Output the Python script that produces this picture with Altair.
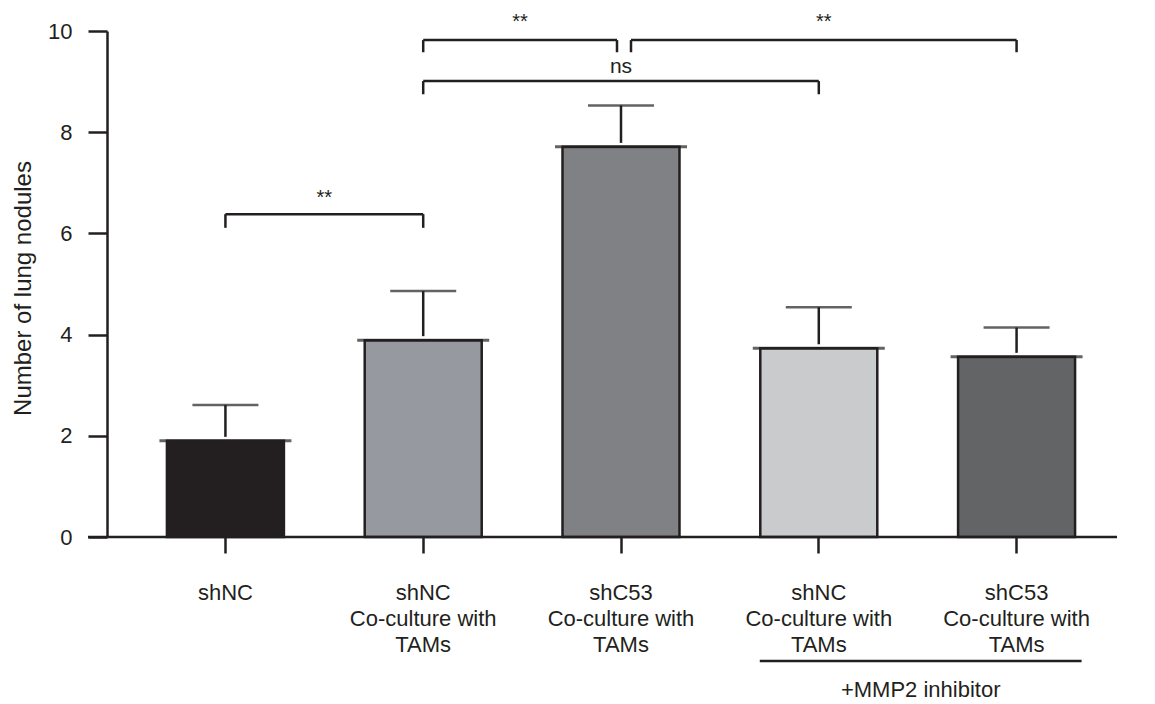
import json
import altair as alt
import pandas as pd

# ---- data ----
groups = ["g1", "g2", "g3", "g4", "g5"]
group_labels = [
    ["shNC"],
    ["shNC", "Co-culture with", "TAMs"],
    ["shC53", "Co-culture with", "TAMs"],
    ["shNC", "Co-culture with", "TAMs"],
    ["shC53", "Co-culture with", "TAMs"],
]
means = [1.90, 3.89, 7.71, 3.73, 3.56]
sds = [0.71, 0.97, 0.82, 0.81, 0.58]
fills = ["#231f20", "#96999f", "#808184", "#cacbcd", "#636466"]

bracket_left = ["g1", "g2", "g2", "g3"]
bracket_right = ["g2", "g3", "g4", "g5"]
bracket_level = [6.38, 9.82, 9.01, 9.82]
bracket_foot = [6.11, 9.58, 8.75, 9.58]
bracket_text = ["**", "**", "ns", "**"]
text_level = [6.59, 10.05, 9.17, 10.05]

group_note = "+MMP2 inhibitor"
group_note_span = ["g4", "g5"]

y_title = "Number of lung nodules"
y_ticks = [0, 2, 4, 6, 8, 10]

# ---- geometry / style ----
W, H = 1028, 506
P_IN, P_OUT = 0.4085, 0.303
STEP = W / (len(groups) - P_IN + 2 * P_OUT)
INK = "#231f20"
FONT = "Liberation Sans"
LW = 2.5

df = pd.DataFrame({"group": groups, "mean": means, "sd": sds})
df["top"] = df["mean"] + df["sd"]

label_expr = ""
for g, lab in zip(groups, group_labels):
    label_expr += f"datum.value == '{g}' ? {json.dumps(lab)} : "
label_expr += "''"

xscale = alt.Scale(domain=groups, paddingInner=P_IN, paddingOuter=P_OUT)
yscale = alt.Scale(domain=[0, 10], nice=False)


def X(field):
    return alt.X(field, type="nominal", scale=xscale, sort=groups, title=None)


def Y(field):
    return alt.Y(field, type="quantitative", scale=yscale, title=y_title,
                 axis=alt.Axis(values=y_ticks))


base = alt.Chart(df)

bars = base.mark_bar(stroke=INK, strokeWidth=LW).encode(
    x=X("group"),
    y=Y("mean"),
    fill=alt.Fill("group:N", scale=alt.Scale(domain=groups, range=fills), legend=None),
)
bar_caps = base.mark_tick(color=INK, size=132, thickness=3).encode(
    x=X("group"), y=Y("mean")
)
err_line = base.mark_rule(color=INK, strokeWidth=LW, y2Offset=-4).encode(
    x=X("group"), y=Y("top"), y2="mean:Q"
)
err_caps = base.mark_tick(color=INK, size=66, thickness=LW).encode(
    x=X("group"), y=Y("top")
)

layers = [bars, bar_caps, err_line, err_caps]

nudges = [(0, 0), (0, -4), (0, 0), (10, 0)]
for i in range(len(bracket_left)):
    bdf = pd.DataFrame({
        "left": [bracket_left[i]], "right": [bracket_right[i]],
        "level": [bracket_level[i]], "foot": [bracket_foot[i]],
        "label": [bracket_text[i]], "tl": [text_level[i]],
    })
    lo, ro = nudges[i]
    bc = alt.Chart(bdf)
    layers.append(bc.mark_rule(color=INK, strokeWidth=LW, xOffset=lo, x2Offset=ro).encode(
        x=X("left"), x2="right:N", y=Y("level")))
    layers.append(bc.mark_rule(color=INK, strokeWidth=LW, xOffset=lo).encode(
        x=X("left"), y=Y("level"), y2="foot:Q"))
    layers.append(bc.mark_rule(color=INK, strokeWidth=LW, xOffset=ro).encode(
        x=X("right"), y=Y("level"), y2="foot:Q"))
    span = groups.index(bracket_right[i]) - groups.index(bracket_left[i])
    dx = span * STEP / 2 + (lo + ro) / 2
    fs = 21 if bracket_text[i] == "ns" else 20
    layers.append(bc.mark_text(color=INK, font=FONT, fontSize=fs, dx=dx,
                               baseline="alphabetic").encode(
        x=X("left"), y=Y("tl"), text="label:N"))

one = alt.Chart(pd.DataFrame({"a": [group_note_span[0]], "b": [group_note_span[1]],
                              "t": [group_note]}))
# x-axis baseline (extends left past y axis)
layers.append(one.mark_rule(color=INK, strokeWidth=LW).encode(
    x=alt.value(-19), x2=alt.value(1010), y=alt.value(H)))
# group underline + note
layers.append(one.mark_rule(color=INK, strokeWidth=LW, xOffset=-59, x2Offset=65).encode(
    x=X("a"), x2="b:N", y=alt.value(630)))
layers.append(one.mark_text(color=INK, font=FONT, fontSize=22, dx=STEP / 2 + 3,
                            baseline="middle").encode(
    x=X("a"), y=alt.value(659), text="t:N"))

chart = alt.layer(*layers).properties(
    width=W, height=H,
    autosize=alt.AutoSizeParams(type="none"),
    padding={"left": 99, "top": 23, "right": 12, "bottom": 164},
).configure_view(stroke=None).configure_axis(
    labelFont=FONT, titleFont=FONT, labelColor=INK, titleColor=INK,
    domainColor=INK, tickColor=INK, grid=False,
).configure_axisX(
    labelExpr=label_expr, labelAngle=0, labelFontSize=22, labelLineHeight=26,
    labelPadding=29, tickSize=16, tickWidth=LW, domain=False, labelLimit=400,
).configure_axisY(
    labelFontSize=22, labelPadding=16, tickSize=19, tickWidth=LW, domainWidth=LW,
    titleFontSize=24, titleFontWeight="normal", titleX=-84, titleY=H / 2 + 4,
    titleBaseline="middle",
)

chart.save("out.html", embed_options={"renderer": "svg", "actions": False})
